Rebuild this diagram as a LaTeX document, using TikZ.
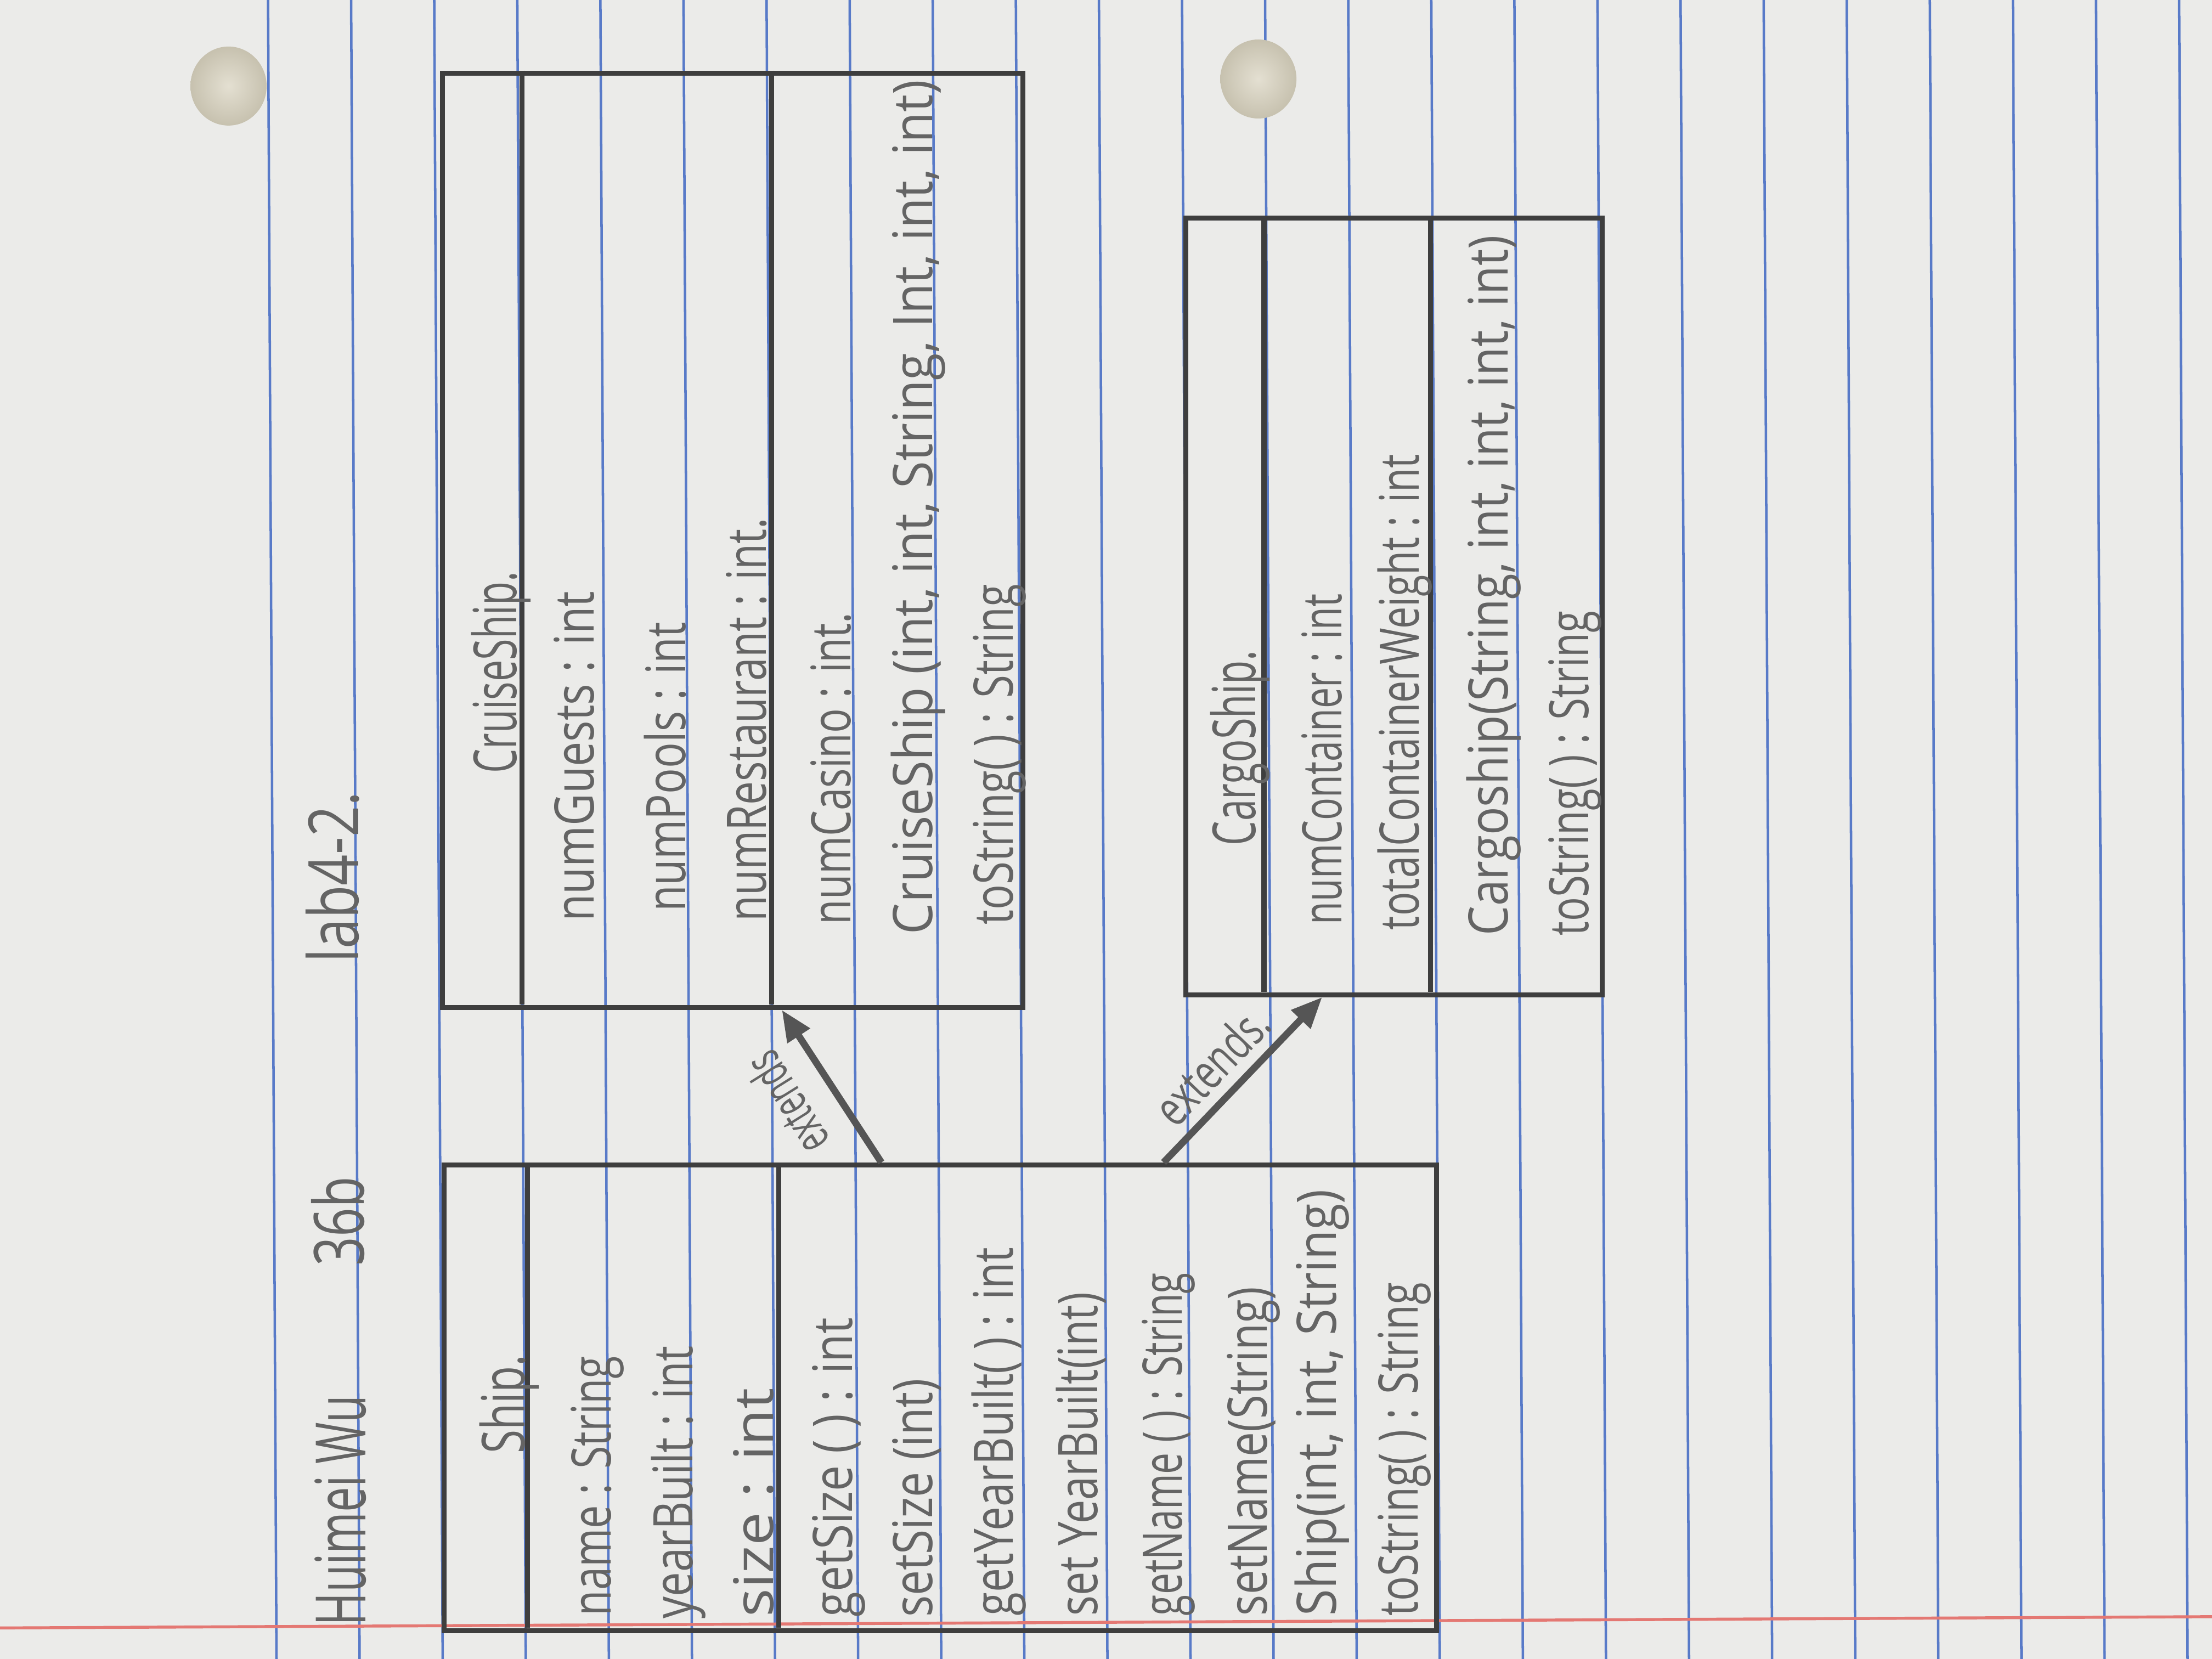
\documentclass[tikz,border=0pt]{standalone}
\usepackage{fontspec}
\usepackage{graphicx}
\newfontfamily\hand{Open Sans}
\usetikzlibrary{arrows.meta,calc}
\definecolor{paper}{RGB}{235,235,233}
\definecolor{rulecol}{RGB}{88,122,200}
\definecolor{margincol}{RGB}{228,120,115}
\definecolor{pencil}{RGB}{62,62,62}
\definecolor{lead}{RGB}{100,100,100}
\definecolor{holecol}{RGB}{216,210,190}
\newcommand\fw[2]{\resizebox{#1}{\height}{#2}}
\begin{document}
\begin{tikzpicture}[x=0.01cm,y=-0.01cm,
  boxline/.style={draw=pencil, line width=1pt},
  umlbox/.style={boxline, rectangle, inner sep=0pt, anchor=north west},
  hw/.style={rotate=90, anchor=base west, inner sep=0pt, text=lead, font=\hand\fontsize{11}{13}\selectfont},
  hwtitle/.style={hw, font=\hand\fontsize{12}{14}\selectfont},
  hwhead/.style={hw, font=\hand\fontsize{14}{16}\selectfont},
  ext/.style={draw=lead!85!black, line width=1.4pt, -{Triangle[length=0.22cm,width=0.18cm]}},
  extfont/.style={text=lead, font=\hand\fontsize{10}{12}\selectfont},
  ruled/.style={draw=rulecol, line width=0.5pt}
]
\useasboundingbox (0,0) rectangle (1568,1176);
\fill[paper] (0,0) rectangle (1568,1176);
% ruled notebook paper
\foreach \k in {0,...,23} {
  \draw[ruled] ({190+58.9*\k},0) -- ({196+58.9*\k},1176);
}
\draw[margincol, line width=0.6pt] (0,1154) -- (1568,1146);
\shade[inner color=holecol!70!white, outer color=holecol!92!black] (162,61) ellipse [x radius=27, y radius=28];
\shade[inner color=holecol!70!white, outer color=holecol!92!black] (892,56) ellipse [x radius=27, y radius=28];

% header
\node[hwhead] (h1) at (259,1153) {\fw{1.63cm}{Huimei Wu}};
\node[hwhead] (h2) at (258,898) {\fw{0.63cm}{36b}};
\node[hwhead] (h3) at (254,683) {\fw{1.21cm}{lab4-2.}};

% boxes
\node[umlbox, minimum width=4.11cm, minimum height=6.62cm] (cruise) at (312,50) {};
\node[umlbox, minimum width=2.95cm, minimum height=5.50cm] (cargo) at (839,153) {};
\node[umlbox, minimum width=7.03cm, minimum height=3.30cm] (ship) at (313,824) {};
% compartment separators
\draw[boxline] (370,50) -- (370,712);
\draw[boxline] (547,50) -- (547,712);
\draw[boxline] (896,153) -- (896,703);
\draw[boxline] (1014,153) -- (1014,703);
\draw[boxline] (374,824) -- (374,1154);
\draw[boxline] (552,824) -- (552,1154);

% Ship
\node[hwtitle] (s0) at (372,1031) {\fw{0.70cm}{Ship.}};
\node[hw] (s1) at (433,1146) {\fw{1.84cm}{name : String}};
\node[hw] (s2) at (491,1148) {\fw{1.93cm}{yearBuilt : int}};
\node[hw] (s3) at (548,1147) {\fw{1.62cm}{size : int}};
\node[hw] (s4) at (604,1147) {\fw{2.12cm}{getSize ( ) : int}};
\node[hw] (s5) at (661,1147) {\fw{1.69cm}{setSize (int)}};
\node[hw] (s6) at (718,1146) {\fw{2.61cm}{getYearBuilt( ) : int}};
\node[hw] (s7) at (778,1146) {\fw{2.29cm}{set YearBuilt(int)}};
\node[hw] (s8) at (838,1146) {\fw{2.43cm}{getName ( ) : String}};
\node[hw] (s9) at (898,1146) {\fw{2.33cm}{setName(String)}};
\node[hw] (s10) at (947,1146) {\fw{3.02cm}{Ship(int, int, String)}};
\node[hw] (s11) at (1005,1146) {\fw{2.36cm}{toString( ) : String}};

% CruiseShip
\node[hwtitle] (c0) at (366,549) {\fw{1.43cm}{CruiseShip.}};
\node[hw] (c1) at (421,654) {\fw{2.34cm}{numGuests : int}};
\node[hw] (c2) at (486,647) {\fw{2.05cm}{numPools : int}};
\node[hw] (c3) at (543,654) {\fw{2.86cm}{numRestaurant : int.}};
\node[hw] (c4) at (603,656) {\fw{2.21cm}{numCasino : int.}};
\node[hw] (c5) at (661,663) {\fw{6.05cm}{CruiseShip (int, int, String, Int, int, int)}};
\node[hw] (c6) at (718,656) {\fw{2.41cm}{toString( ) : String}};

% CargoShip
\node[hwtitle] (g0) at (890,600) {\fw{1.38cm}{CargoShip.}};
\node[hw] (g1) at (951,656) {\fw{2.34cm}{numContainer : int}};
\node[hw] (g2) at (1006,660) {\fw{3.37cm}{totalContainerWeight : int}};
\node[hw] (g3) at (1069,664) {\fw{4.96cm}{Cargoship(String, int, int, int, int)}};
\node[hw] (g4) at (1126,664) {\fw{2.30cm}{toString( ) : String}};

% inheritance arrows
\coordinate (t1) at ($(ship.north west)!0.441!(ship.north east)$);
\coordinate (a1) at ($(cruise.south west)!0.584!(cruise.south east)$);
\coordinate (t2) at ($(ship.north west)!0.724!(ship.north east)$);
\coordinate (a2) at ($(cargo.south west)!0.329!(cargo.south east)$);
\draw[ext] (t1) -- node[extfont, pos=0.55, rotate=122, anchor=south, inner xsep=0pt, inner ysep=5pt] (l1) {\fw{0.78cm}{extends}} (a1);
\draw[ext] (t2) -- node[extfont, pos=0.45, sloped, above=2pt, inner sep=0pt] (l2) {\fw{1.0cm}{extends.}} (a2);
\end{tikzpicture}
\end{document}
